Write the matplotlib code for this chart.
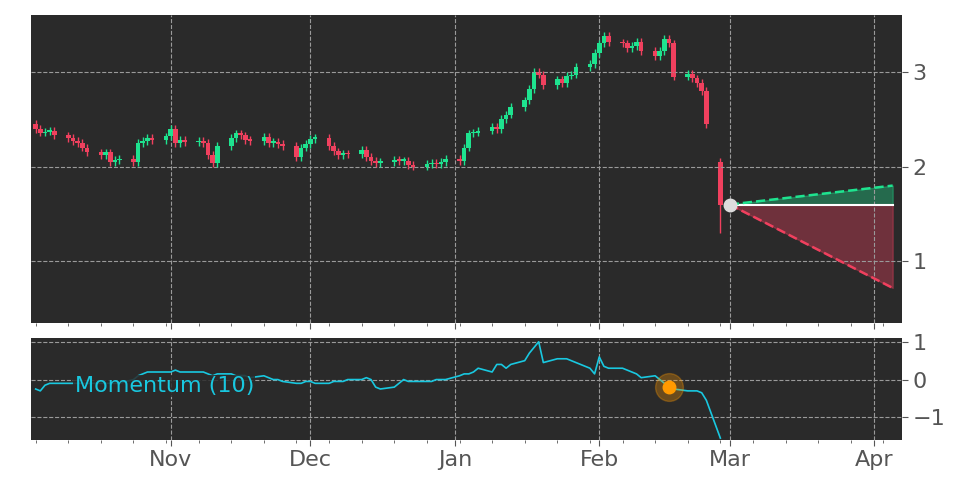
import matplotlib
matplotlib.use("Agg")
import matplotlib.pyplot as plt
import matplotlib.dates as mdates
import pandas as pd
import numpy as np

closes = [2.40,2.36,2.37,2.38,2.33, 2.30,2.27,2.25,2.20,2.15, 2.12,2.15,2.05,2.07,2.08,
          2.05,2.25,2.27,2.30,2.28, 2.32,2.40,2.25,2.28,2.26, 2.27,2.25,2.12,2.04,2.22,
          2.30,2.35,2.33,2.28,2.27, 2.31,2.25,2.26,2.24,2.22, 2.10,2.20,2.24,2.29,2.30,
          2.22,2.16,2.12,2.14,2.13, 2.18,2.10,2.06,2.04,2.05, 2.07,2.06,2.06,2.02,2.00,
          2.03,2.04,2.03,2.05,2.08, 2.06,2.20,2.35,2.36,2.38, 2.42,2.40,2.50,2.55,2.63,
          2.70,2.82,3.00,2.97,2.86, 2.92,2.88,2.96,2.97,3.05, 3.08,3.20,3.30,3.38,3.31,
          3.30,3.25,3.27,3.32,3.22, 3.17,3.22,3.35,3.30,2.95, 2.98,2.93,2.88,2.80,2.45, 1.60]
momentum = [-0.25,-0.3,-0.15,-0.1,-0.1, -0.1,-0.1,-0.1,-0.1,-0.1, -0.1,-0.1,-0.1,-0.1,-0.1,
            0.0,0.1,0.15,0.2,0.2, 0.2,0.2,0.25,0.2,0.2, 0.2,0.2,0.15,0.1,0.15,
            0.15,0.1,0.1,0.1,0.05, 0.1,0.05,0.0,0.0,-0.05, -0.1,-0.1,-0.05,-0.05,-0.1,
            -0.1,-0.05,-0.05,-0.05,0.0, 0.0,0.05,0.0,-0.2,-0.25, -0.2,-0.1,0.0,-0.05,-0.05,
            -0.05,-0.05,0.0,0.0,0.0, 0.1,0.15,0.15,0.2,0.3, 0.2,0.4,0.4,0.3,0.4,
            0.5,0.7,0.85,1.0,0.45, 0.55,0.55,0.55,0.5,0.45, 0.3,0.15,0.6,0.35,0.3,
            0.3,0.25,0.2,0.15,0.05, 0.1,0.0,-0.1,-0.2,-0.25, -0.3,-0.3,-0.3,-0.35,-0.55,-1.55]
opens = [2.45] + closes[:-1]
opens[-1] = 2.05
lows_override = {len(closes)-1: 1.30}
dates = pd.bdate_range("2022-10-03", periods=len(closes))
proj_start = pd.Timestamp("2023-03-01"); proj_end = pd.Timestamp("2023-04-05")
proj_val = 1.60; proj_up = 1.80; proj_down = 0.72

bg = "#2a2a2a"; green = "#1ee38f"; red = "#f0405e"
fig = plt.figure(figsize=(9.72, 4.86), dpi=100)
ax = fig.add_axes([31/972, 1-323/486, 871/972, 308/486])
ax2 = fig.add_axes([31/972, 1-440/486, 871/972, 102/486], sharex=ax)
for a in (ax, ax2):
    a.set_facecolor(bg)
    a.grid(True, color="#9a9a9a", ls="--", lw=0.8)
    a.yaxis.tick_right()
    a.tick_params(colors="#555555", labelsize=16, length=4)
    for s in a.spines.values(): s.set_visible(False)

x = mdates.date2num(dates)
for i, (xi, o, c) in enumerate(zip(x, opens, closes)):
    col = green if c >= o else red
    hi = max(o, c) + 0.04
    lo = lows_override.get(i, min(o, c) - 0.04)
    ax.vlines(xi, lo, hi, color=col, lw=1)
    h = abs(c - o) if abs(c - o) > 0.01 else 0.02
    ax.bar(xi, h, bottom=min(o, c), width=1.0, color=col)

xs = mdates.date2num([proj_start, proj_end])
ax.plot(xs, [proj_val, proj_val], color="white", lw=1.5)
ax.plot(xs, [proj_val, proj_up], color=green, ls="--", lw=1.8)
ax.plot(xs, [proj_val, proj_down], color=red, ls="--", lw=1.8)
ax.fill_between(xs, [proj_val, proj_val], [proj_val, proj_up], color=green, alpha=0.35)
ax.fill_between(xs, [proj_val, proj_val], [proj_val, proj_down], color=red, alpha=0.35)
ax.plot(xs[0], proj_val, "o", color="#dddddd", ms=9, zorder=5)
ax.set_ylim(0.35, 3.6)
ax.set_yticks([1, 2, 3])
ax.set_xlim(mdates.date2num(pd.Timestamp("2022-10-02")), mdates.date2num(pd.Timestamp("2023-04-07")))

ax2.plot(x, momentum, color="#19c8e0", lw=1.2)
k = list(dates).index(pd.Timestamp("2023-02-16"))
ax2.plot(x[k], momentum[k], "o", color="#ff9a00", ms=9, zorder=5)
ax2.plot(x[k], momentum[k], "o", color="#ff9a00", ms=20, alpha=0.3, zorder=4)
ax2.text(0.05, 0.53, "Momentum (10)", transform=ax2.transAxes, color="#19c8e0", fontsize=16, va="center",
         bbox=dict(facecolor=bg, edgecolor="none", alpha=0.85, pad=1))
ax2.set_ylim(-1.6, 1.1)
ax2.set_yticks([-1, 0, 1])
ax2.set_yticklabels(["\u22121", "0", "1"])
ax.xaxis.set_major_locator(mdates.MonthLocator())
ax.xaxis.set_major_formatter(mdates.DateFormatter("%b"))
ax.tick_params(labelbottom=False)
ax2.xaxis.set_minor_locator(mdates.WeekdayLocator(byweekday=0))
ax2.tick_params(which="minor", length=2, colors="#555555")
ax.tick_params(which="minor", length=2, colors="#555555")
fig.savefig("out.png", facecolor="white")
